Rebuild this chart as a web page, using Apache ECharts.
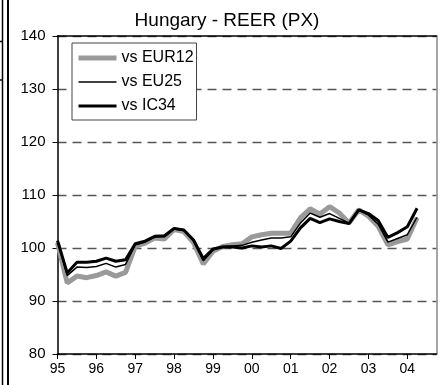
<!DOCTYPE html>
<html>
<head>
<meta charset="utf-8">
<script src="https://cdn.jsdelivr.net/npm/echarts@6/dist/echarts.min.js"></script>
<style>
  html, body { margin: 0; padding: 0; background: #fff; }
  #chart { width: 440px; height: 385px; }
</style>
</head>
<body>
<div id="chart"></div>
<script>
// Quarterly axis, 1995 Q1 to 2004 Q4; a label for each year
const years = ['95', '96', '97', '98', '99', '00', '01', '02', '03', '04'];
const quarters = ['Q1', 'Q2', 'Q3', 'Q4'];
const categories = [];
years.forEach(y => quarters.forEach(q => categories.push(y + q)));

const yTicks = [80, 90, 100, 110, 120, 130, 140];

// Real effective exchange rate indices (PX deflated)
const vsEUR12 = [101.0, 93.4, 94.7, 94.4, 94.8, 95.5, 94.7, 95.4,
  100.3, 100.9, 101.9, 101.7, 103.5, 103.1, 101.0, 97.0,
  99.4, 100.3, 100.6, 100.8, 102.1, 102.5, 102.8, 102.8,
  102.8, 105.7, 107.4, 106.4, 107.8, 106.6, 104.7, 107.2,
  106.0, 104.1, 100.6, 101.2, 101.7, 105.7];
const vsEU25 = [101.3, 94.8, 96.4, 96.3, 96.5, 97.1, 96.4, 96.9,
  100.6, 101.1, 102.1, 102.1, 103.6, 103.3, 101.3, 97.6,
  99.6, 100.3, 100.4, 100.5, 101.1, 101.5, 101.9, 101.9,
  102.1, 104.7, 106.6, 105.8, 106.5, 105.6, 104.7, 107.2,
  106.2, 104.5, 101.1, 101.8, 102.5, 105.8];
const vsIC34 = [101.4, 95.3, 97.3, 97.3, 97.5, 98.1, 97.5, 97.8,
  100.8, 101.3, 102.2, 102.3, 103.7, 103.4, 101.5, 98.0,
  99.8, 100.2, 100.2, 100.0, 100.4, 100.2, 100.4, 99.9,
  101.3, 103.8, 105.6, 104.8, 105.5, 105.0, 104.6, 107.2,
  106.5, 105.2, 102.0, 102.9, 104.0, 107.5];

const FONT = '"Liberation Sans", Arial, sans-serif';

// line styles shared by each series and its legend sample
const styleEUR12 = { color: '#9a9a9a', width: 5 };
const styleEU25 = { color: '#000', width: 1.5 };
const styleIC34 = { color: '#000', width: 3 };

const chart = echarts.init(document.getElementById('chart'), null, { renderer: 'canvas' });

chart.setOption({
  animation: false,
  backgroundColor: '#fff',
  title: {
    text: 'Hungary - REER (PX)',
    left: 227, textAlign: 'center',
    top: 11,
    padding: 0,
    textStyle: { fontFamily: FONT, fontSize: 19, fontWeight: 'normal', color: '#000' }
  },
  legend: {
    orient: 'vertical',
    left: 72, top: 43,
    padding: [7, 3, 6, 4],
    itemGap: 8,
    itemWidth: 38, itemHeight: 14,
    borderColor: '#444', borderWidth: 1,
    backgroundColor: '#fff',
    // line samples only, no marker on them
    itemStyle: { opacity: 0 },
    textStyle: { fontFamily: FONT, fontSize: 16, color: '#000' },
    data: [
      { name: 'vs EUR12', lineStyle: { color: styleEUR12.color, width: styleEUR12.width } },
      { name: 'vs EU25', lineStyle: { color: styleEU25.color, width: styleEU25.width } },
      { name: 'vs IC34', lineStyle: { color: styleIC34.color, width: styleIC34.width } }
    ]
  },
  grid: { left: 57.5, right: 3.5, top: 36, bottom: 31 },
  xAxis: [{
    type: 'category',
    data: categories,
    boundaryGap: false,
    axisLine: { lineStyle: { color: '#000', width: 1.5 } },
    axisTick: { interval: 3, length: 5, lineStyle: { color: '#000', width: 1 } },
    axisLabel: {
      interval: 3, margin: 8,
      fontFamily: FONT, fontSize: 14, color: '#000',
      formatter: v => v.slice(0, 2)
    },
    splitLine: { show: false }
  }, {
    type: 'category',
    data: categories,
    boundaryGap: false,
    position: 'top',
    axisLine: { lineStyle: { color: '#000', width: 1.5 } },
    axisTick: { show: false },
    axisLabel: { show: false },
    splitLine: { show: false }
  }],
  yAxis: [{
    type: 'value',
    min: yTicks[0], max: yTicks[yTicks.length - 1], interval: 10,
    axisLine: { show: true, lineStyle: { color: '#000', width: 1.5 } },
    axisTick: { show: true, length: 5, lineStyle: { color: '#000', width: 1 } },
    axisLabel: { margin: 12, fontFamily: FONT, fontSize: 15, color: '#000' },
    splitLine: { show: true, lineStyle: { color: '#555', width: 1.3, type: [9, 6] } }
  }, {
    type: 'value',
    position: 'right',
    min: yTicks[0], max: yTicks[yTicks.length - 1], interval: 10,
    axisLine: { show: true, lineStyle: { color: '#888', width: 1.5 } },
    axisTick: { show: false },
    axisLabel: { show: false },
    splitLine: { show: false }
  }],
  series: [{
    name: 'vs EUR12', type: 'line', data: vsEUR12,
    symbol: 'none', lineStyle: styleEUR12,
    itemStyle: { color: styleEUR12.color }, z: 2
  }, {
    name: 'vs EU25', type: 'line', data: vsEU25,
    symbol: 'none', lineStyle: styleEU25,
    itemStyle: { color: styleEU25.color }, z: 3
  }, {
    name: 'vs IC34', type: 'line', data: vsIC34,
    symbol: 'none', lineStyle: styleIC34,
    itemStyle: { color: styleIC34.color }, z: 4
  }],
  graphic: [
    // frame edge of the neighbouring panel on the left
    { type: 'line', shape: { x1: 2.5, y1: 0, x2: 2.5, y2: 385 }, style: { stroke: '#000', lineWidth: 1.5 } },
    { type: 'line', shape: { x1: 8, y1: 0, x2: 8, y2: 385 }, style: { stroke: '#000', lineWidth: 2 } },
    { type: 'line', shape: { x1: 0, y1: 41.5, x2: 3, y2: 41.5 }, style: { stroke: '#000', lineWidth: 1.5 } },
    { type: 'line', shape: { x1: 0, y1: 80, x2: 3, y2: 80 }, style: { stroke: '#000', lineWidth: 1.5 } }
  ]
});
</script>
</body>
</html>
